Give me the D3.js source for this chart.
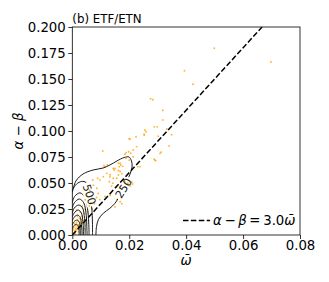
<!DOCTYPE html>
<html>
<head>
<meta charset="utf-8">
<script src="https://cdn.jsdelivr.net/npm/d3@7"></script>
<style>
  body { margin: 0; background: #fff; }
  svg { font-family: "DejaVu Sans", sans-serif; }
</style>
</head>
<body>
<script>
// ticks
var xTicks = [0, 0.02, 0.04, 0.06, 0.08];
var yTicks = [0, 0.025, 0.05, 0.075, 0.1, 0.125, 0.15, 0.175, 0.2];

// fitted line: alpha - beta = slope * omega
var slope = 3.0;

// scatter points (omega bar, alpha - beta)
var omega = [0.0499,0.0698,0.0394,0.0424,0.0275,0.0283,0.0318,0.0318,0.0288,0.0298,0.0332,0.0255,0.0259,0.0224,0.0200,0.0349,0.0340,0.0312,0.0288,0.0293,
  0.0107,0.0214,0.0205,0.0189,0.0214,0.0200,0.0230,0.0168,0.0144,0.0111,0.0226,0.0198,0.0177,0.0162,0.0253,0.0302,0.0238,0.0203,0.0252,0.0185,
  0.0189,0.0115,0.0123,0.0170,0.0168,0.0162,0.0156,0.0121,0.0132,0.0144,0.0089,0.0150,0.0162,0.0174,0.0133,0.0109,0.0097,0.0130,0.0138,0.0153,
  0.0185,0.0195,0.0203,0.0212,0.0072,0.0074,0.0062,0.0086,0.0051,0.0045,0.0091,0.0097,0.0115,0.0133,0.0156,0.0168,0.0150,0.0174,0.0197,0.0209,
  0.0147,0.0165,0.0142,0.0168,0.0290,0.0308,
  0.0005,0.0008,0.0010,0.0012,0.0015,0.0018,0.0020,0.0022,0.0025,0.0028,0.0030,0.0012,0.0015,0.0008,0.0020,0.0025,0.0030,0.0035,0.0018,0.0005,
  0.0010,0.0003,0.0022,0.0032,0.0038,0.0040,0.0028,0.0045,0.0035,0.0042,0.0015,0.0050,0.0055,0.0060,0.0065,0.0070,0.0078,0.0085,0.0068];
var alphaBeta = [0.1795,0.1663,0.1580,0.1450,0.1310,0.1300,0.1200,0.1106,0.1040,0.1040,0.1020,0.1010,0.0993,0.0945,0.0926,0.0965,0.0856,0.0795,0.0728,0.0715,
  0.0808,0.0817,0.0786,0.0792,0.0753,0.0720,0.0657,0.0690,0.0640,0.0667,0.0850,0.0800,0.0660,0.0690,0.0960,0.0950,0.0657,0.0920,0.0970,0.0776,
  0.0737,0.0657,0.0673,0.0673,0.0610,0.0577,0.0545,0.0593,0.0560,0.0545,0.0545,0.0640,0.0620,0.0590,0.0580,0.0560,0.0530,0.0513,0.0470,0.0459,
  0.0513,0.0497,0.0470,0.0490,0.0530,0.0480,0.0430,0.0450,0.0380,0.0340,0.0400,0.0340,0.0370,0.0380,0.0340,0.0320,0.0270,0.0300,0.0480,0.0510,
  0.0625,0.0657,0.0497,0.0465,0.0720,0.0785,
  0.0020,0.0040,0.0030,0.0060,0.0050,0.0080,0.0060,0.0100,0.0090,0.0120,0.0080,0.0090,0.0120,0.0110,0.0140,0.0160,0.0150,0.0180,0.0180,0.0070,
  0.0010,0.0050,0.0030,0.0110,0.0140,0.0210,0.0220,0.0250,0.0280,0.0060,0.0240,0.0160,0.0220,0.0280,0.0310,0.0250,0.0300,0.0360,0.0370];

// density contours, levels and their traced lines (omega, alpha - beta)
var contourLevels = [250, 500, 750, 1000, 1250, 1500, 1750, 2000, 2250];
var contourLines = [
  [[0,0.041],[0.0013,0.052],[0.0038,0.0587],[0.0073,0.0625],[0.0108,0.0644],[0.0132,0.0673],[0.0157,0.0712],[0.0182,0.0745],[0.0199,0.075],
   [0.0208,0.0712],[0.021,0.0654],[0.0203,0.0587],[0.0192,0.052],[0.018,0.045],[0.0163,0.036],[0.015,0.0305],[0.0132,0.0257],[0.0109,0.0209],
   [0.0092,0.015],[0.0085,0.008],[0.0083,0]],
  [[0,0.043],[0.0015,0.049],[0.0033,0.0515],[0.0048,0.0505],[0.006,0.039],[0.0068,0.027],[0.007,0.019],[0.0071,0.01],[0.0071,0]],
  [[0,0.031],[0.0008,0.037],[0.0027,0.0405],[0.0045,0.036],[0.0055,0.022],[0.0058,0.010],[0.0059,0]],
  [[0,0.026],[0.0007,0.031],[0.0025,0.0346],[0.004,0.031],[0.0049,0.019],[0.0051,0.008],[0.0052,0]],
  [[0,0.021],[0.0007,0.026],[0.0023,0.0288],[0.0036,0.026],[0.0043,0.016],[0.0045,0.007],[0.0045,0]],
  [[0,0.0173],[0.0006,0.021],[0.0021,0.024],[0.0032,0.021],[0.0037,0.013],[0.0039,0.005],[0.0039,0]],
  [[0,0.0135],[0.0006,0.017],[0.0019,0.0192],[0.0028,0.017],[0.0032,0.010],[0.0034,0.004],[0.0034,0]],
  [[0,0.0096],[0.0005,0.0125],[0.0017,0.0144],[0.0025,0.012],[0.0028,0.006],[0.0029,0]],
  [[0,0.0062],[0.0005,0.0088],[0.0015,0.0102],[0.0022,0.008],[0.0024,0.003],[0.0024,0]]
];
// inline contour labels
var labelText = ["250", "500"];
var labelAt = [[0.0180, 0.0450], [0.0060, 0.0390]];
var labelAngle = [-58, 72];

var W = 329, H = 282;
var fs = 13.3;

var svg = d3.select("body").append("svg")
  .attr("width", W)
  .attr("height", H);

var x = d3.scaleLinear().domain([0, 0.08]).range([72.3, 300]);
var y = d3.scaleLinear().domain([0, 0.2]).range([235, 27]);

var defs = svg.append("defs");
defs.append("clipPath").attr("id", "plotclip")
  .append("rect")
  .attr("x", x(0)).attr("y", y(0.2))
  .attr("width", x(0.08) - x(0)).attr("height", y(0) - y(0.2));

var mask = defs.append("mask").attr("id", "lblmask")
  .attr("maskUnits", "userSpaceOnUse")
  .attr("x", 0).attr("y", 0).attr("width", W).attr("height", H);
mask.append("rect").attr("width", W).attr("height", H).style("fill", "white");
labelAt.forEach(function(p, i){
  mask.append("rect")
    .attr("x", -12).attr("y", -6).attr("width", 24).attr("height", 12)
    .attr("transform", "translate(" + x(p[0]) + "," + y(p[1]) + ") rotate(" + labelAngle[i] + ")")
    .style("fill", "black");
});

var plot = svg.append("g").attr("clip-path", "url(#plotclip)");

// scatter
plot.append("g").selectAll("circle")
  .data(omega)
  .enter()
  .append("circle")
  .attr("cx", function(d){ return x(d); })
  .attr("cy", function(d, i){ return y(alphaBeta[i]); })
  .attr("r", 0.95)
  .style("fill", "#ffa500")
  .style("opacity", 0.8);

// contours
var line = d3.line()
  .x(function(d){ return x(d[0]); })
  .y(function(d){ return y(d[1]); })
  .curve(d3.curveCatmullRom.alpha(0.5));

plot.append("g").attr("mask", "url(#lblmask)")
  .selectAll("path")
  .data(contourLines)
  .enter()
  .append("path")
  .attr("d", line)
  .style("fill", "none")
  .style("stroke", "#1a1a1a")
  .style("stroke-width", 1);

labelAt.forEach(function(p, i){
  svg.append("text")
    .attr("transform", "translate(" + x(p[0]) + "," + y(p[1]) + ") rotate(" + labelAngle[i] + ")")
    .attr("text-anchor", "middle")
    .attr("dy", "0.35em")
    .style("font-size", "11px")
    .style("fill", "#1a1a1a")
    .text(labelText[i]);
});

// fitted dashed line
plot.append("line")
  .attr("x1", x(0)).attr("y1", y(0))
  .attr("x2", x(0.2 / slope)).attr("y2", y(0.2))
  .style("stroke", "black")
  .style("stroke-width", 1.5)
  .style("stroke-dasharray", "5.5,2.4");

// axes
var xAxis = svg.append("g")
  .attr("transform", "translate(0," + y(0) + ")")
  .call(d3.axisBottom(x).tickValues(xTicks).tickFormat(d3.format(".2f")).tickSize(4).tickPadding(2));
var yAxis = svg.append("g")
  .attr("transform", "translate(" + x(0) + ",0)")
  .call(d3.axisLeft(y).tickValues(yTicks).tickFormat(d3.format(".3f")).tickSize(4).tickPadding(2.5));
[xAxis, yAxis].forEach(function(a){
  a.select(".domain").remove();
  a.selectAll("text").style("font-size", fs + "px").style("font-family", "DejaVu Sans").style("fill", "black");
  a.selectAll("line").style("stroke", "black").style("stroke-width", 0.8);
});

svg.append("rect")
  .attr("x", x(0)).attr("y", y(0.2))
  .attr("width", x(0.08) - x(0)).attr("height", y(0) - y(0.2))
  .style("fill", "none")
  .style("stroke", "black")
  .style("stroke-width", 0.8);

// title
svg.append("text")
  .attr("x", x(0)).attr("y", 22.7)
  .style("font-size", "11.8px")
  .text("(b) ETF/ETN");

// axis labels
var yl = svg.append("text")
  .attr("transform", "translate(23," + ((y(0) + y(0.2)) / 2) + ") rotate(-90)")
  .attr("text-anchor", "middle")
  .style("font-size", fs + "px");
yl.append("tspan").style("font-style", "italic").text("α");
yl.append("tspan").text(" − ");
yl.append("tspan").style("font-style", "italic").text("β");

svg.append("text")
  .attr("x", (x(0) + x(0.08)) / 2).attr("y", 265)
  .attr("text-anchor", "middle")
  .style("font-size", fs + "px")
  .style("font-style", "italic")
  .text("ω\u0304");

// legend
svg.append("line")
  .attr("x1", 183).attr("x2", 210)
  .attr("y1", 220.5).attr("y2", 220.5)
  .style("stroke", "black")
  .style("stroke-width", 1.5)
  .style("stroke-dasharray", "5.5,2.4");
var lg = svg.append("text")
  .attr("x", 213).attr("y", 224.5)
  .style("font-size", fs + "px");
lg.append("tspan").style("font-style", "italic").text("α");
lg.append("tspan").text("\u2009−\u2009");
lg.append("tspan").style("font-style", "italic").text("β");
lg.append("tspan").text("\u2009=\u20093.0");
lg.append("tspan").style("font-style", "italic").text("ω\u0304");
</script>
</body>
</html>
